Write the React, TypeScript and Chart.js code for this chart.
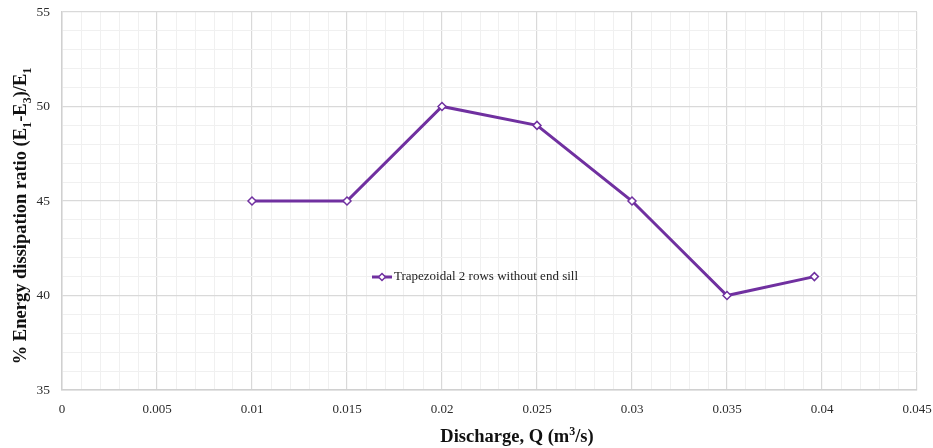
import React, { useEffect, useRef } from "react";
import { Chart, registerables } from "chart.js";

Chart.register(...registerables);

const discharge: number[] = [0.01, 0.015, 0.02, 0.025, 0.03, 0.035, 0.0396];
const dissipation: number[] = [45, 45, 50, 49, 45, 40, 41];
const seriesName = "Trapezoidal 2 rows without end sill";

type Seg = { t: string; s?: "sub" | "sup" };
const xTitle: Seg[] = [{ t: "Discharge, Q (m" }, { t: "3", s: "sup" }, { t: "/s)" }];
const yTitle: Seg[] = [
  { t: "% Energy dissipation ratio (E" },
  { t: "1", s: "sub" },
  { t: "-E" },
  { t: "3", s: "sub" },
  { t: ")/E" },
  { t: "1", s: "sub" },
];

const PURPLE = "#7030A0";
const FONT = "'Liberation Serif', 'Times New Roman', serif";
const TITLE_SIZE = 18.5;

function drawRich(ctx: CanvasRenderingContext2D, segs: Seg[], size: number) {
  const small = size * 0.65;
  const fontOf = (s?: string) => `bold ${s ? small : size}px ${FONT}`;
  let total = 0;
  for (const g of segs) {
    ctx.font = fontOf(g.s);
    total += ctx.measureText(g.t).width;
  }
  let x = -total / 2;
  ctx.textAlign = "left";
  ctx.textBaseline = "alphabetic";
  const base = size * 0.35;
  for (const g of segs) {
    ctx.font = fontOf(g.s);
    const dy = g.s === "sub" ? size * 0.22 : g.s === "sup" ? -size * 0.38 : 0;
    ctx.fillText(g.t, x, base + dy);
    x += ctx.measureText(g.t).width;
  }
}

const overlayPlugin = {
  id: "overlay",
  afterDraw(chart: any) {
    const { ctx, chartArea } = chart;
    ctx.save();
    ctx.fillStyle = "#111";
    ctx.save();
    ctx.translate(chartArea.left + 455, chartArea.bottom + 46);
    drawRich(ctx, xTitle, TITLE_SIZE);
    ctx.restore();
    ctx.save();
    ctx.translate(20, chartArea.top + 204);
    ctx.rotate(-Math.PI / 2);
    drawRich(ctx, yTitle, TITLE_SIZE);
    ctx.restore();
    // legend
    const x0 = chartArea.left + 310;
    const y0 = chartArea.top + 265;
    ctx.strokeStyle = PURPLE;
    ctx.lineWidth = 3;
    ctx.beginPath();
    ctx.moveTo(x0, y0);
    ctx.lineTo(x0 + 20, y0);
    ctx.stroke();
    ctx.fillStyle = "#fff";
    ctx.lineWidth = 1.5;
    const cx = x0 + 10;
    ctx.beginPath();
    ctx.moveTo(cx, y0 - 3.5);
    ctx.lineTo(cx + 3.5, y0);
    ctx.lineTo(cx, y0 + 3.5);
    ctx.lineTo(cx - 3.5, y0);
    ctx.closePath();
    ctx.fill();
    ctx.stroke();
    ctx.fillStyle = "#222";
    ctx.font = `13px ${FONT}`;
    ctx.textBaseline = "middle";
    ctx.textAlign = "left";
    ctx.fillText(seriesName, x0 + 22, y0);
    ctx.restore();
  },
};

export default function App() {
  const ref = useRef<HTMLCanvasElement | null>(null);
  useEffect(() => {
    if (!ref.current) return;
    const isMajor = (v: number, step: number) =>
      Math.abs(v / step - Math.round(v / step)) < 1e-6;
    const chart = new Chart(ref.current, {
      type: "line",
      data: {
        datasets: [
          {
            label: seriesName,
            data: discharge.map((x, i) => ({ x, y: dissipation[i] })),
            borderColor: PURPLE,
            borderWidth: 3,
            pointStyle: "rectRot",
            pointRadius: 4,
            pointBorderWidth: 1.5,
            pointBackgroundColor: "#fff",
            pointBorderColor: PURPLE,
            tension: 0,
          },
        ],
      },
      options: {
        animation: false,
        responsive: true,
        maintainAspectRatio: false,
        layout: { padding: { top: 12, right: 16, left: 0, bottom: 0 } },
        plugins: { legend: { display: false }, tooltip: { enabled: false } },
        scales: {
          x: {
            type: "linear",
            min: 0,
            max: 0.045,
            afterFit: (s: any) => {
              s.height = 58;
              s.paddingLeft = 0;
              s.paddingRight = 0;
            },
            ticks: {
              stepSize: 0.001,
              autoSkip: false,
              maxRotation: 0,
              color: "#2b2b2b",
              padding: 12,
              font: { family: FONT, size: 13 },
              callback: (v: any) =>
                isMajor(Number(v), 0.005) ? String(Math.round(Number(v) * 1000) / 1000) : "",
            },
            grid: {
              drawTicks: false,
              color: (c: any) => (isMajor(c.tick.value, 0.005) ? "#d9d9d9" : "#f0f0f0"),
              lineWidth: (c: any) => (isMajor(c.tick.value, 0.005) ? 1.2 : 1),
            },
            border: { color: "#d0d0d0", width: 1.5 },
            title: { display: false },
          },
          y: {
            min: 35,
            max: 55,
            afterFit: (s: any) => {
              s.width = 62;
              s.paddingTop = 0;
              s.paddingBottom = 0;
            },
            ticks: {
              stepSize: 1,
              autoSkip: false,
              color: "#2b2b2b",
              padding: 12,
              font: { family: FONT, size: 13.5 },
              callback: (v: any) => (isMajor(Number(v), 5) ? String(v) : ""),
            },
            grid: {
              drawTicks: false,
              color: (c: any) => (isMajor(c.tick.value, 5) ? "#d9d9d9" : "#f0f0f0"),
              lineWidth: (c: any) => (isMajor(c.tick.value, 5) ? 1.2 : 1),
            },
            border: { color: "#d0d0d0", width: 1.5 },
            title: { display: false },
          },
        },
      },
      plugins: [overlayPlugin],
    } as any);
    return () => chart.destroy();
  }, []);
  return (
    <div style={{ position: "fixed", left: 0, top: 0, width: 933, height: 448, background: "#fff" }}>
      <canvas ref={ref} />
    </div>
  );
}
